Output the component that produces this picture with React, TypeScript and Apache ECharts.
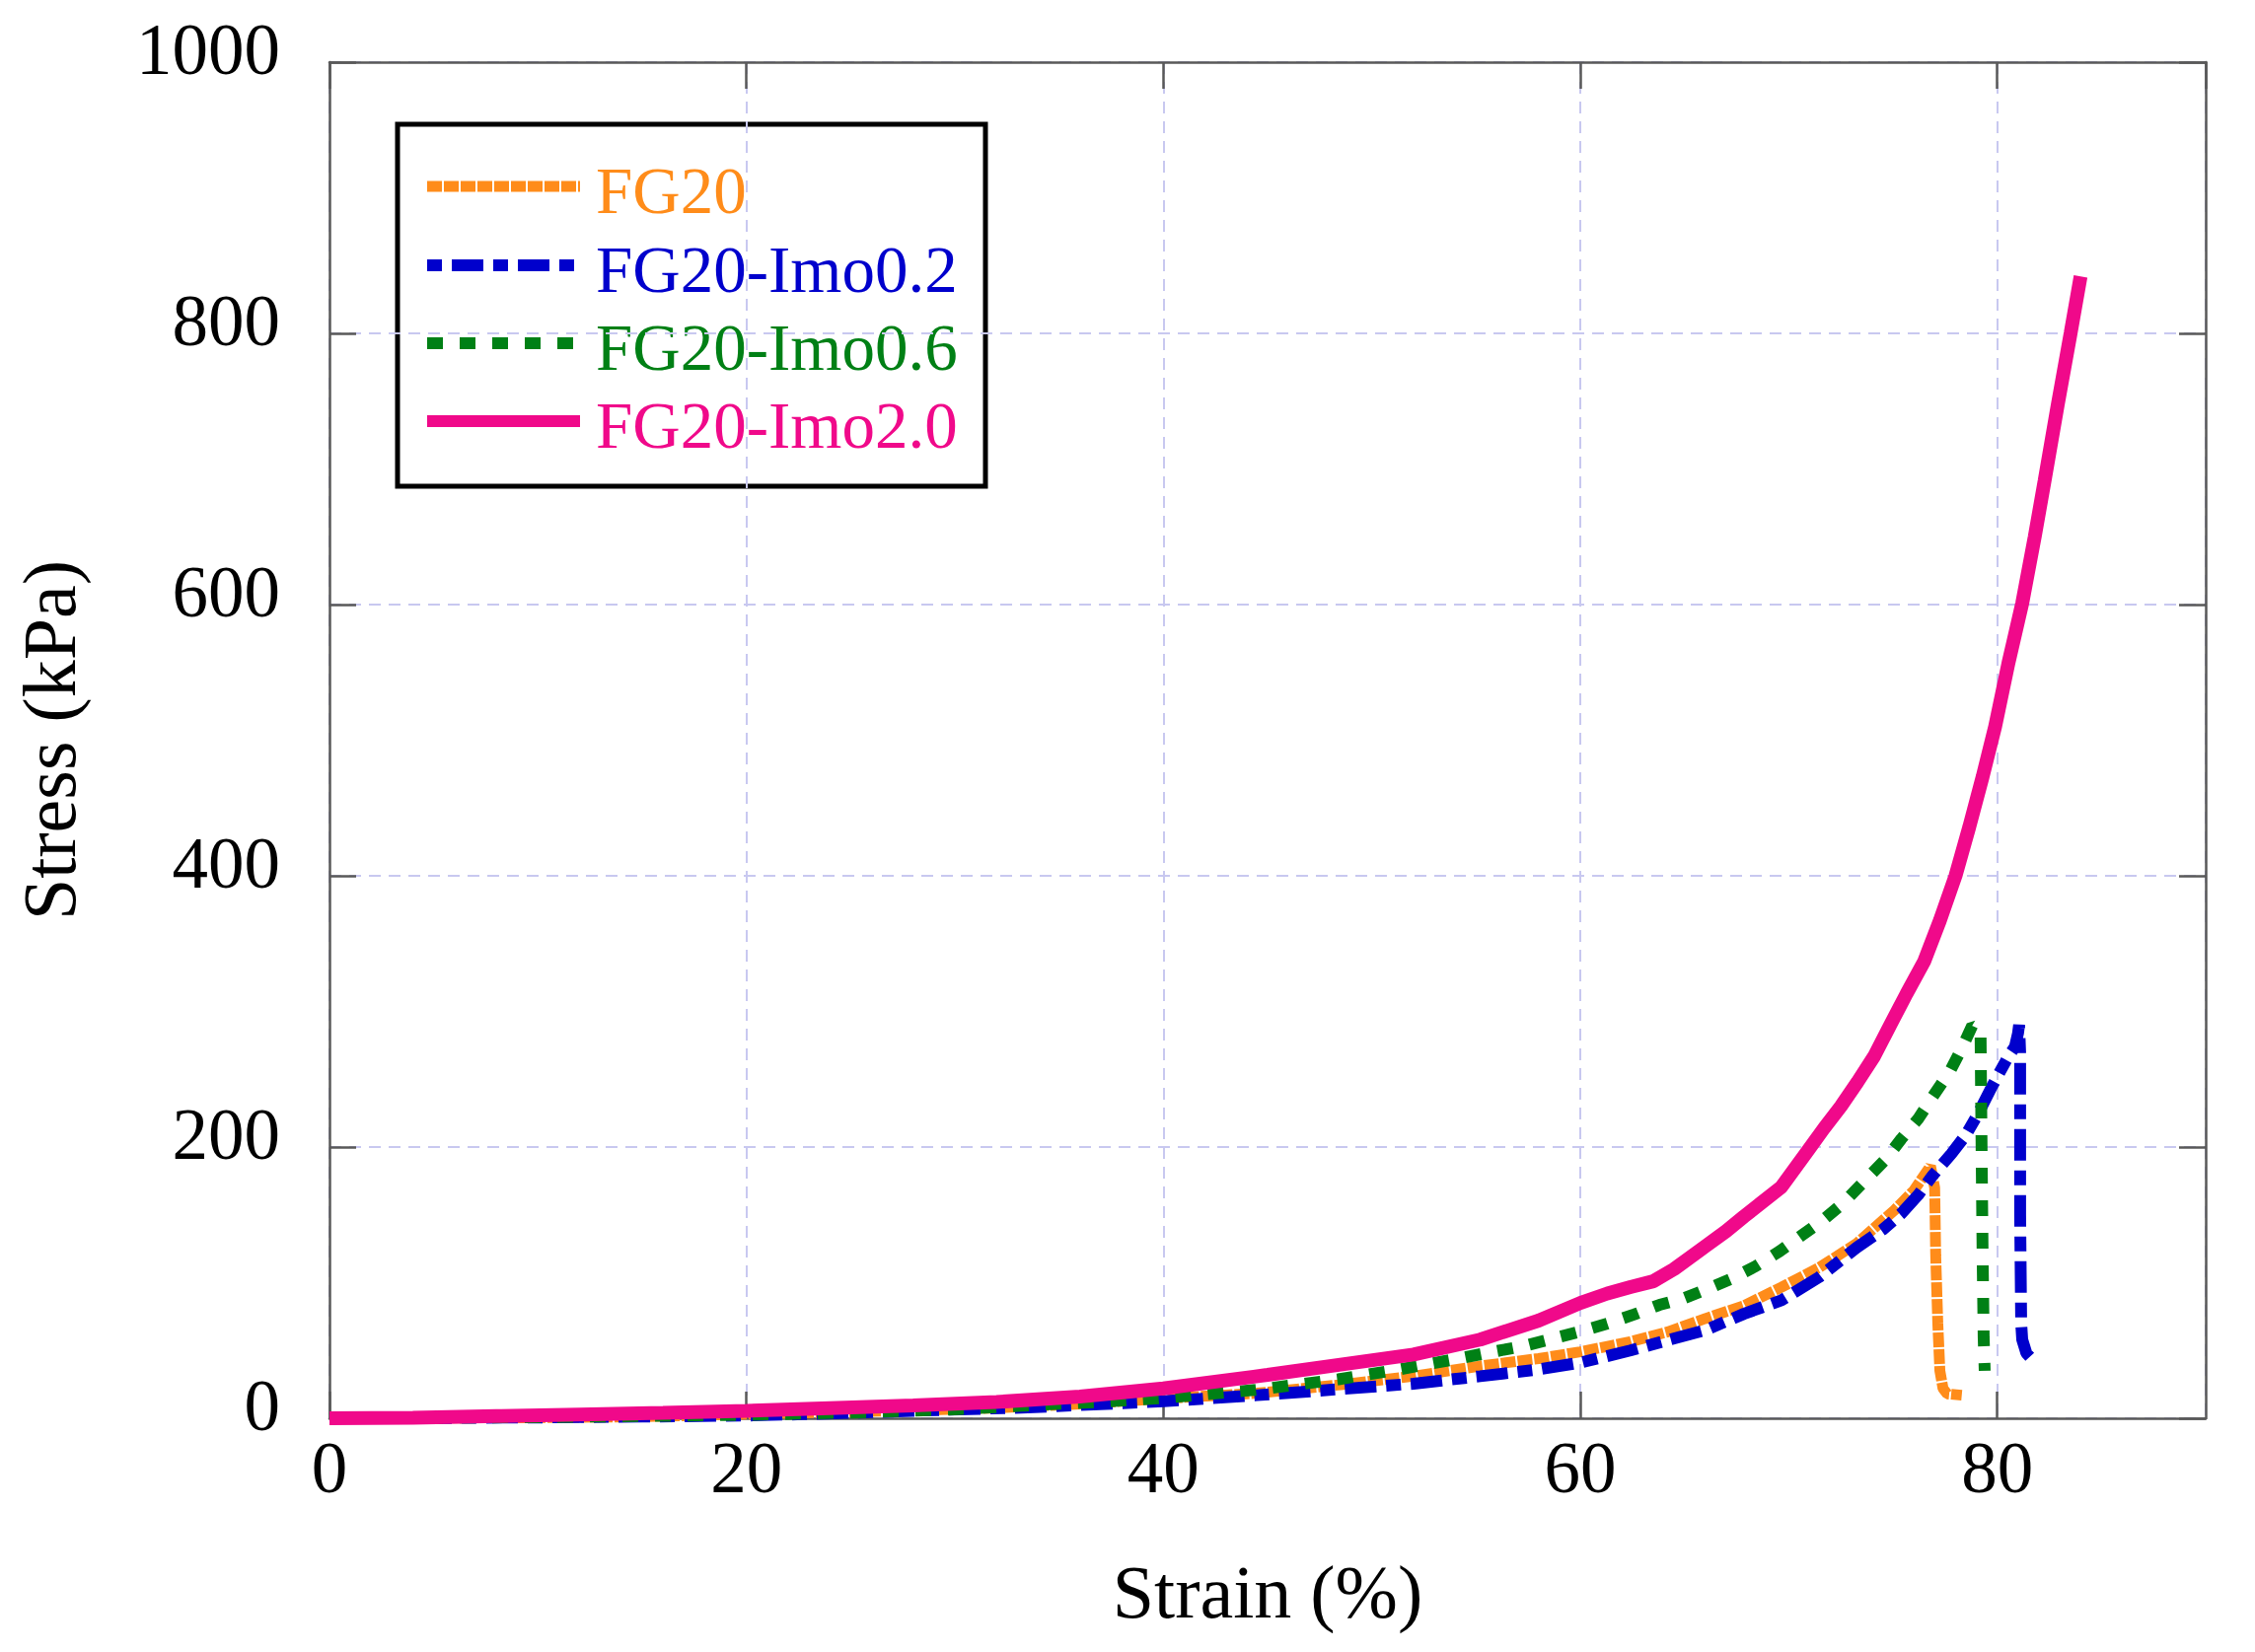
import React, { useEffect, useRef } from "react";
import * as echarts from "echarts";

const FONT = "'Liberation Serif', 'Times New Roman', serif";

const seriesNames = ["FG20", "FG20-Imo0.2", "FG20-Imo0.6", "FG20-Imo2.0"];
const seriesColors = ["#FF8C1A", "#0000CC", "#008015", "#F0098A"];
const seriesDashes: (number[] | "solid")[] = [[15, 2], [15, 10, 32, 10], [16, 17], "solid"];
const seriesWidths = [11, 12, 12, 14];

const xTicks = [0, 20, 40, 60, 80];
const yTicks = [0, 200, 400, 600, 800, 1000];

// FG20 (strain %, stress kPa)
const fg20: number[][] = [
  [0, 0], [10, 0.4], [15, 1.2], [20, 3], [25, 4.8], [31, 7], [36, 10.5], [40, 14.5],
  [44.5, 18.5], [48.5, 24.7], [52, 31], [55.2, 38.5], [58, 44], [60, 49], [62.4, 56.4],
  [64.2, 63.7], [66, 73.5], [67.85, 83], [69.65, 96.6], [71.45, 111], [73.27, 129],
  [75.08, 153.6], [76, 168], [76.8, 186], [77.0, 170], [77.05, 120], [77.15, 70],
  [77.25, 35], [77.4, 22], [77.6, 18], [78.3, 17],
];

// FG20-Imo0.2
const imo02: number[][] = [
  [0, 0], [5, 0.2], [10, 0.6], [15, 1.2], [20, 2], [22.7, 3], [28, 5.5], [33.5, 8],
  [40, 12.5], [44.5, 17], [48.5, 21.5], [52, 25.5], [55.2, 31], [58, 36], [60, 41],
  [62.4, 50], [64.2, 57.6], [66, 65], [67.85, 77], [69.65, 87], [71.45, 104],
  [73.27, 126], [74.5, 139], [75.4, 151], [76.2, 164.5], [76.9, 179], [77.8, 195],
  [78.5, 209], [79.1, 225], [79.76, 245], [80.47, 265], [80.85, 274], [81.0, 284],
  [81.05, 290], [81.1, 270], [81.1, 150], [81.15, 70], [81.2, 58], [81.4, 48],
  [81.7, 43], [81.9, 42],
];

// FG20-Imo0.6
const imo06: number[][] = [
  [0, 0], [10, 0.8], [20, 2.5], [25.5, 4.4], [30, 6.5], [33.5, 9.5], [37, 12], [40, 15],
  [44.5, 21], [48.4, 28.7], [51.3, 36], [54.3, 44.4], [55.8, 49], [57.3, 53.3],
  [58.6, 58.4], [60, 64], [61.3, 69.8], [62.6, 76.6], [63.8, 83.6], [65, 88.7],
  [66.1, 95.3], [67.2, 102.5], [68.4, 112], [69.55, 123], [70.6, 134.6], [71.6, 145.6],
  [72.6, 158.5], [73.7, 176], [74.65, 191], [75.4, 206], [76.2, 220.6], [76.9, 237],
  [77.7, 255], [78.3, 272.7], [78.8, 289.5], [79.2, 286], [79.25, 200], [79.3, 120],
  [79.35, 60], [79.4, 35],
];

// FG20-Imo2.0
const imo20: number[][] = [
  [0, 0], [4, 0.4], [8, 1.6], [12, 2.8], [16, 4], [20, 5.5], [24, 7.5], [28, 9.5],
  [32, 12], [36, 16], [40, 22], [45, 32], [48.5, 39.5], [52, 47], [55.2, 58], [58, 72],
  [60, 85], [61.3, 92], [62.4, 96.7], [63.5, 101], [64.5, 110], [66, 126.8], [67, 138],
  [67.85, 148.7], [69.65, 170.6], [70.9, 197], [71.7, 214], [72.5, 230], [73.3, 248],
  [74.1, 267], [74.87, 290], [75.65, 313], [76.5, 337], [77.25, 367], [78, 400],
  [78.66, 436], [79.3, 473], [79.9, 510], [80.54, 557], [81.2, 601], [81.8, 650],
  [82.27, 691], [82.9, 747], [83.52, 800], [84.0, 842],
];

const allData = [fg20, imo02, imo06, imo20];

const AXIS_COLOR = "#595959";
const GRID_COLOR = "#C8C8F0";

const mkLine = () => ({ show: true, onZero: false, lineStyle: { color: AXIS_COLOR, width: 2.5 } });
const mkTick = () => ({ show: true, inside: true, length: 27, lineStyle: { color: AXIS_COLOR, width: 2.5 } });
const mkSplit = () => ({ show: true, lineStyle: { type: [12, 8], color: GRID_COLOR, width: 2 } });

export default function App() {
  const ref = useRef<HTMLDivElement>(null);

  useEffect(() => {
    document.body.style.margin = "0";
    if (!ref.current) return;
    const chart = echarts.init(ref.current, undefined, { renderer: "svg" });

    const legendX = 403;
    const legendY = 126;
    const rowY = [189, 269, 348, 427];
    const legendChildren: any[] = [
      {
        type: "rect",
        shape: { x: legendX, y: legendY, width: 596, height: 367 },
        style: { fill: "#fff", stroke: "#000", lineWidth: 5 },
      },
    ];
    seriesNames.forEach((name, i) => {
      const dash = seriesDashes[i];
      legendChildren.push({
        type: "line",
        shape: { x1: 433, y1: rowY[i], x2: 588, y2: rowY[i] },
        style: {
          stroke: seriesColors[i],
          lineWidth: Math.min(seriesWidths[i], 12),
          lineDash: dash === "solid" ? null : dash,
        },
      });
      legendChildren.push({
        type: "text",
        x: 604,
        y: rowY[i] + 4,
        style: {
          text: name,
          fill: seriesColors[i],
          fontFamily: FONT,
          fontSize: 67,
          textAlign: "left",
          textVerticalAlign: "middle",
          verticalAlign: "middle",
        },
      });
    });

    chart.setOption({
      animation: false,
      backgroundColor: "#fff",
      grid: { left: 334, right: 50, top: 63, bottom: 237, containLabel: false },
      xAxis: [
        {
          type: "value",
          min: 0,
          max: 90,
          interval: 20,
          position: "bottom",
          axisLine: mkLine(),
          axisTick: mkTick(),
          splitLine: mkSplit(),
          axisLabel: {
            show: true,
            fontFamily: FONT,
            fontSize: 73,
            color: "#000",
            margin: 14,
            showMaxLabel: false,
            formatter: (v: number) => (xTicks.includes(v) ? String(v) : ""),
          },
          name: "Strain (%)",
          nameLocation: "middle",
          nameGap: 138,
          nameTextStyle: { fontFamily: FONT, fontSize: 76, color: "#000" },
        },
        {
          type: "value",
          min: 0,
          max: 90,
          interval: 20,
          position: "top",
          axisLine: mkLine(),
          axisTick: mkTick(),
          splitLine: { show: false },
          axisLabel: { show: false },
        },
      ],
      yAxis: [
        {
          type: "value",
          min: 0,
          max: 1000,
          interval: 200,
          position: "left",
          axisLine: mkLine(),
          axisTick: mkTick(),
          splitLine: mkSplit(),
          axisLabel: {
            show: true,
            fontFamily: FONT,
            fontSize: 73,
            color: "#000",
            margin: 50,
            verticalAlign: "bottom",
            lineHeight: 26,
            formatter: (v: number) => (yTicks.includes(v) ? String(v) : ""),
          },
          name: "Stress (kPa)",
          nameLocation: "middle",
          nameGap: 246,
          nameTextStyle: { fontFamily: FONT, fontSize: 76, color: "#000" },
        },
        {
          type: "value",
          min: 0,
          max: 1000,
          interval: 200,
          position: "right",
          axisLine: mkLine(),
          axisTick: mkTick(),
          splitLine: { show: false },
          axisLabel: { show: false },
        },
      ],
      series: seriesNames.map((name, i) => ({
        name,
        type: "line",
        xAxisIndex: 0,
        yAxisIndex: 0,
        data: allData[i],
        showSymbol: false,
        symbol: "none",
        smooth: false,
        z: 2 + i,
        lineStyle: {
          color: seriesColors[i],
          width: seriesWidths[i],
          type: seriesDashes[i],
          cap: "butt",
        },
      })),
      graphic: [{ type: "group", z: 100, children: legendChildren }],
    });

    return () => chart.dispose();
  }, []);

  return <div ref={ref} style={{ width: 2286, height: 1675 }} />;
}
